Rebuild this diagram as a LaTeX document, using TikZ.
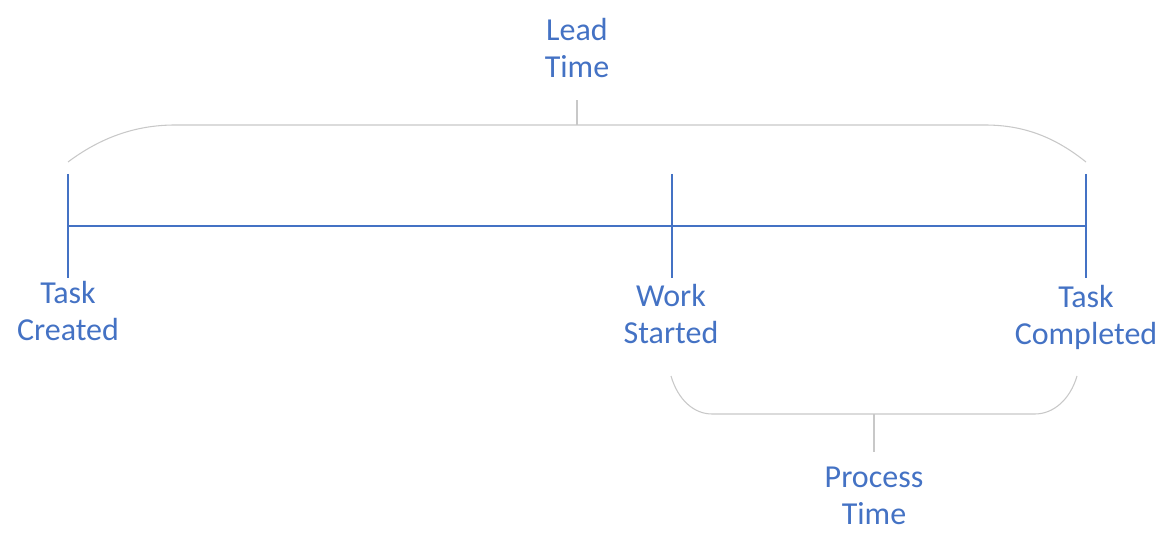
\documentclass[tikz,border=0pt]{standalone}
\usepackage{fontspec}
\setmainfont{Carlito}
\definecolor{tlblue}{HTML}{4472C4}
\definecolor{brgray}{HTML}{C8C8C8}
\begin{document}
\begin{tikzpicture}[x=0.75pt,y=-0.75pt,
  tick/.style={draw=tlblue,line width=2pt},
  brace/.style={draw=brgray,line width=0.8pt},
  lbl/.style={text=tlblue,font=\fontsize{24}{27.75}\selectfont,align=center,inner sep=0pt,anchor=base}]
\useasboundingbox (0,0) rectangle (1175,549);
% ticks
\coordinate (a) at (68,226);
\coordinate (b) at (672,226);
\coordinate (c) at (1086,226);
\coordinate (at) at (68,174); \coordinate (ab) at (68,278);
\coordinate (bt) at (672,174); \coordinate (bb) at (672,278);
\coordinate (ct) at (1086,174); \coordinate (cb) at (1086,278);
\draw[tick] (a) -- (c);
\draw[tick] (at) -- (ab);
\draw[tick] (bt) -- (bb);
\draw[tick] (ct) -- (cb);
% labels (anchor = baseline of last line)
\node[lbl] (created) at (68,340) {Task\\Created};
\node[lbl] (started) at (671,343) {Work\\Started};
\node[lbl] (completed) at (1086,344) {Task\\Completed};
\node[lbl] (lead) at (577,78) {Lead\\Time};
\node[lbl] (process) at (874,524) {Process\\Time};
% lead brace
\coordinate (l1) at (68,162);
\coordinate (l2) at (175,125);
\coordinate (l3) at (985,125);
\coordinate (l4) at (1086,162);
\coordinate (lm) at (577,125);
\coordinate (lt) at (577,100);
\draw[brace] (l1) .. controls (100,138) and (135,125) .. (l2) -- (l3)
  .. controls (1025,125) and (1056,138) .. (l4);
\draw[brace] (lm) -- (lt);
% process brace
\coordinate (p1) at (671,376);
\coordinate (p2) at (712,414);
\coordinate (p3) at (1035,414);
\coordinate (p4) at (1077,376);
\coordinate (pm) at (874,414);
\coordinate (pt) at (874,452);
\draw[brace] (p1) .. controls (678,400) and (694,414) .. (p2) -- (p3)
  .. controls (1053,414) and (1070,400) .. (p4);
\draw[brace] (pm) -- (pt);
\end{tikzpicture}
\end{document}
